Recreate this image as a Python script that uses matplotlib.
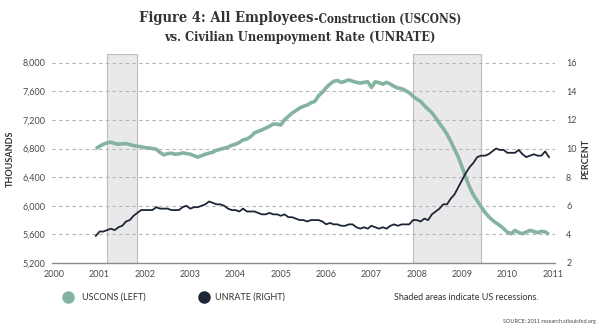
import matplotlib
matplotlib.use("Agg")
import matplotlib.pyplot as plt
import numpy as np
from matplotlib.lines import Line2D

# Monthly series, December 2000 through December 2010
start_year, start_month = 2000, 12

uscons = [  # All Employees: Construction, thousands
    6800,
    6830, 6860, 6880, 6888, 6870, 6860, 6865, 6869, 6855, 6840, 6832, 6825,
    6813, 6808, 6800, 6790, 6745, 6711, 6729, 6735, 6720, 6725, 6739, 6730,
    6721, 6700, 6679, 6700, 6720, 6735, 6750, 6776, 6790, 6805, 6818, 6845,
    6860, 6885, 6920, 6934, 6965, 7018, 7040, 7060, 7087, 7110, 7143, 7140,
    7129, 7203, 7250, 7296, 7330, 7366, 7390, 7408, 7440, 7460, 7538, 7585,
    7650, 7700, 7740, 7750, 7724, 7740, 7760, 7740, 7725, 7715, 7725, 7733,
    7655, 7733, 7720, 7700, 7724, 7700, 7668, 7645, 7637, 7610, 7580, 7529,
    7490, 7460, 7400, 7350, 7300, 7230, 7150, 7080, 7000, 6900, 6790, 6679,
    6540, 6390, 6260, 6150, 6070, 5990, 5912, 5850, 5800, 5760, 5725, 5680,
    5630, 5610, 5656, 5625, 5610, 5633, 5656, 5640, 5624, 5642, 5635, 5600,
]

unrate = [  # Civilian unemployment rate, percent
    3.9,
    4.2, 4.2, 4.3, 4.4, 4.3, 4.5, 4.6, 4.9, 5.0, 5.3, 5.5, 5.7,
    5.7, 5.7, 5.7, 5.9, 5.8, 5.8, 5.8, 5.7, 5.7, 5.7, 5.9, 6.0,
    5.8, 5.9, 5.9, 6.0, 6.1, 6.3, 6.2, 6.1, 6.1, 6.0, 5.8, 5.7,
    5.7, 5.6, 5.8, 5.6, 5.6, 5.6, 5.5, 5.4, 5.4, 5.5, 5.4, 5.4,
    5.3, 5.4, 5.2, 5.2, 5.1, 5.0, 5.0, 4.9, 5.0, 5.0, 5.0, 4.9,
    4.7, 4.8, 4.7, 4.7, 4.6, 4.6, 4.7, 4.7, 4.5, 4.4, 4.5, 4.4,
    4.6, 4.5, 4.4, 4.5, 4.4, 4.6, 4.7, 4.6, 4.7, 4.7, 4.7, 5.0,
    5.0, 4.9, 5.1, 5.0, 5.4, 5.6, 5.8, 6.1, 6.1, 6.5, 6.8, 7.3,
    7.8, 8.3, 8.7, 9.0, 9.4, 9.5, 9.5, 9.6, 9.8, 10.0, 9.9, 9.9,
    9.7, 9.7, 9.7, 9.9, 9.6, 9.4, 9.5, 9.6, 9.5, 9.5, 9.8, 9.4,
]

# NBER recessions (start, end) as decimal years
recessions = [(2001 + 2 / 12, 2001 + 10 / 12), (2007 + 11 / 12, 2009 + 5 / 12)]

year_ticks = list(range(2000, 2012))
left_ticks = [5200, 5600, 6000, 6400, 6800, 7200, 7600, 8000]
right_ticks = [2, 4, 6, 8, 10, 12, 14, 16]

GREEN = "#84b3a0"
NAVY = "#1d2636"
TXT = "#4a4a4a"
SANS = ["Lato", "DejaVu Sans"]
SLAB = ["DejaVu Serif"]

t = start_year + (start_month - 1) / 12 + np.arange(len(uscons)) / 12

fig = plt.figure(figsize=(6.0, 3.28), dpi=100)
ax = fig.add_axes([52 / 600, 1 - 263 / 328, (555 - 52) / 600, (263 - 54) / 328])
ax2 = ax.twinx()

for a, b in recessions:
    ax.axvspan(a, b, facecolor="#e9e9ec", edgecolor="#bdbdbd", lw=0.8, zorder=0)

ax.plot(t, uscons, color=GREEN, lw=2.6, solid_capstyle="butt", zorder=3)
ax2.plot(t, unrate, color=NAVY, lw=1.3, zorder=3)

ax.set_xlim(1999.95, 2011.05)
ax.set_ylim(5200, 8121)
ax2.set_ylim(2, 16.605)

ax.set_yticks(left_ticks)
ax.set_yticklabels([f"{v:,}" for v in left_ticks])
ax2.set_yticks(right_ticks)
ax2.set_yticklabels([str(v) for v in right_ticks])
ax.set_xticks(year_ticks)
ax.set_xticklabels([str(y) for y in year_ticks])

for v in left_ticks[1:]:
    ax.axhline(v, color="#b3b3b3", lw=0.8, ls=(0, (3, 3)), zorder=1)

for a in (ax, ax2):
    for s in ("top", "right", "left"):
        a.spines[s].set_visible(False)
    a.spines["bottom"].set_color("#8c8c8c")
    a.spines["bottom"].set_linewidth(1.0)
    a.tick_params(length=0, labelsize=6.5, labelcolor=TXT)
    for lab in a.get_xticklabels() + a.get_yticklabels():
        lab.set_fontfamily(SANS)
ax2.spines["bottom"].set_visible(False)
ax.tick_params(axis="y", pad=5)
ax2.tick_params(axis="y", pad=8)
ax.tick_params(axis="x", pad=5)

ax.set_ylabel("THOUSANDS", fontsize=6.5, color="#333333", family=SANS,
              fontweight="bold")
ax.yaxis.set_label_coords(-0.074, 0.5)
ax2.set_ylabel("PERCENT", fontsize=6.5, color="#333333", family=SANS,
               fontweight="bold", rotation=90)
ax2.yaxis.set_label_coords(1.052, 0.5)

# Title: first line mixes a large and a smaller part, centred together
t1 = fig.text(0, 1 - 18 / 328, "Figure 4: All Employees", fontsize=10.5,
              fontweight="bold", family=SLAB, fontstretch="condensed",
              color="#333333", va="center")
t2 = fig.text(0, 1 - 19 / 328, "-Construction (USCONS)", fontsize=8.5,
              fontweight="bold", family=SLAB, fontstretch="condensed",
              color="#333333", va="center")
fig.text(0.5, 1 - 37 / 328, "vs. Civilian Unempoyment Rate (UNRATE)", fontsize=9.2,
         fontweight="bold", family=SLAB, fontstretch="condensed",
         color="#333333", va="center", ha="center")
fig.canvas.draw()
r = fig.canvas.get_renderer()
w1 = t1.get_window_extent(r).width
w2 = t2.get_window_extent(r).width
x0 = (600 - (w1 + w2)) / 2
t1.set_x(x0 / 600)
t2.set_x((x0 + w1) / 600)

# Legend row
ly = 1 - 297 / 328
fig.add_artist(Line2D([68 / 600], [ly], transform=fig.transFigure, marker="o",
                      markersize=8, color=GREEN, lw=0))
fig.text(82 / 600, ly, "USCONS (LEFT)", fontsize=6.5, family=SANS,
         color="#333333", va="center")
fig.add_artist(Line2D([204 / 600], [ly], transform=fig.transFigure, marker="o",
                      markersize=8, color=NAVY, lw=0))
fig.text(215 / 600, ly, "UNRATE (RIGHT)", fontsize=6.5, family=SANS,
         color="#333333", va="center")
fig.text(394 / 600, ly, "Shaded areas indicate US recessions.", fontsize=6.5,
         family=SANS, color="#333333", va="center")
fig.text(596 / 600, 1 - 322 / 328, "SOURCE: 2011 research.stlouisfed.org",
         fontsize=4, family=SANS, color="#444444", va="center", ha="right")

fig.savefig("out.png", dpi=100, facecolor="white")
